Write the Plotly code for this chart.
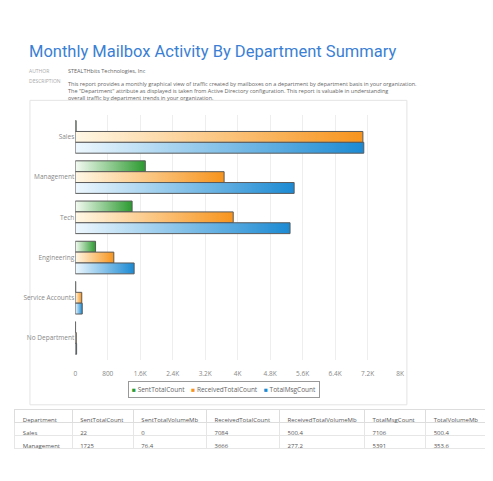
import plotly.graph_objects as go

# ---- data ----
departments = ["Sales", "Management", "Tech", "Engineering", "Service Accounts", "No Department"]
sent_total = [22, 1725, 1400, 500, 12, 8]
received_total = [7084, 3666, 3890, 950, 160, 25]
total_msg = [7106, 5391, 5290, 1450, 172, 33]

series_names = ["SentTotalCount", "ReceivedTotalCount", "TotalMsgCount"]
series_values = [sent_total, received_total, total_msg]
series_dark = ["#2b9a2f", "#f7941d", "#1b8ad3"]
series_light = ["#f4fbf2", "#fff8e6", "#eef8fe"]

x_tickvals = [0, 800, 1600, 2400, 3200, 4000, 4800, 5600, 6400, 7200, 8000]
x_ticktext = ["0", "800", "1.6K", "2.4K", "3.2K", "4K", "4.8K", "5.6K", "6.4K", "7.2K", "8K"]

table_header = ["Department", "SentTotalCount", "SentTotalVolumeMb", "ReceivedTotalCount",
                "ReceivedTotalVolumeMb", "TotalMsgCount", "TotalVolumeMb"]
table_department = ["Sales", "Management"]
table_sent_count = [22, 1725]
table_sent_vol = [0, 76.4]
table_recv_count = [7084, 3666]
table_recv_vol = [500.4, 277.2]
table_total_count = [7106, 5391]
table_total_vol = [500.4, 353.6]

title_text = "Monthly Mailbox Activity By Department Summary"
author_text = "STEALTHbits Technologies, Inc"
desc_lines = [
    "This report provides a monthly graphical view of traffic created by mailboxes on a department by department basis in your organization.",
    "The \"Department\" attribute as displayed is taken from Active Directory configuration. This report is valuable in understanding",
    "overall traffic by department trends in your organization.",
]

# ---- figure ----
fig = go.Figure()

bar_h = 0.27
offsets = [-bar_h, 0.0, bar_h]

for s_idx, (name, vals) in enumerate(zip(series_names, series_values)):
    for c_idx, v in enumerate(vals):
        yc = c_idx + offsets[s_idx]
        y0, y1 = yc - bar_h / 2, yc + bar_h / 2
        fig.add_trace(go.Scatter(
            x=[0, v, v, 0, 0], y=[y0, y0, y1, y1, y0],
            mode="lines", fill="toself", name=name,
            fillgradient=dict(type="horizontal",
                              colorscale=[[0, series_light[s_idx]], [1, series_dark[s_idx]]]),
            line=dict(color="#5a5a5a", width=1),
            showlegend=False, hoverinfo="skip",
        ))

legend_text = "&nbsp;&nbsp;&nbsp;&nbsp;".join(
    f"<span style='color:{c}'>■</span> {n}" for n, c in zip(series_names, series_dark)
)

fig.add_trace(go.Table(
    domain=dict(x=[0.01, 0.985], y=[0.03, 0.165]),
    columnwidth=[58, 62, 74, 74, 86, 62, 64],
    header=dict(values=table_header, align="left", height=13,
                fill_color="white", line_color="#dddddd",
                font=dict(family="Open Sans", size=6, color="#555555")),
    cells=dict(values=[table_department, table_sent_count, table_sent_vol, table_recv_count,
                       table_recv_vol, table_total_count, table_total_vol],
               align="left", height=13, fill_color="white", line_color="#e6e6e6",
               font=dict(family="Open Sans", size=6, color="#555555")),
))

fig.update_layout(
    width=493, height=481,
    margin=dict(l=0, r=0, t=0, b=0),
    paper_bgcolor="white", plot_bgcolor="white",
    font=dict(family="Open Sans", color="#777777"),
    showlegend=False,
    xaxis=dict(domain=[0.134, 0.801], range=[0, 8000], tickvals=x_tickvals, ticktext=x_ticktext,
               showgrid=True, gridcolor="#eeeeee", zeroline=False, showline=False,
               tickfont=dict(size=6.5, color="#888888"), ticks="", ticklabelstandoff=8),
    yaxis=dict(domain=[0.268, 0.778], range=[5.55, -0.55], tickvals=list(range(len(departments))),
               ticktext=departments, showgrid=False, zeroline=False, showline=False,
               tickfont=dict(size=6.5, color="#888888"), ticks=""),
    shapes=[
        dict(type="rect", xref="paper", yref="paper", x0=0.041, x1=0.815, y0=0.175, y1=0.808,
             line=dict(color="#e4e4e4", width=1), layer="below"),
        dict(type="line", xref="paper", yref="paper", x0=0.99, x1=0.99, y0=0.03, y1=0.92,
             line=dict(color="#bbbbbb", width=2)),
    ],
    annotations=[
        dict(text=legend_text, xref="paper", yref="paper", x=0.44, y=0.207, xanchor="center",
             yanchor="middle", showarrow=False, bgcolor="white", bordercolor="#999999",
             borderwidth=1, borderpad=3, font=dict(size=6.5, color="#666666")),
        dict(text=title_text, xref="paper", yref="paper", x=0.035, y=0.91, xanchor="left",
             yanchor="middle", showarrow=False,
             font=dict(family="Roboto", size=16.5, color="#3b7fd4")),
        dict(text="AUTHOR", xref="paper", yref="paper", x=0.035, y=0.868, xanchor="left",
             yanchor="middle", showarrow=False, font=dict(size=5, color="#aaaaaa")),
        dict(text=author_text, xref="paper", yref="paper", x=0.115, y=0.868, xanchor="left",
             yanchor="middle", showarrow=False, font=dict(size=5.5, color="#666666")),
        dict(text="DESCRIPTION", xref="paper", yref="paper", x=0.035, y=0.849, xanchor="left",
             yanchor="middle", showarrow=False, font=dict(size=5, color="#aaaaaa")),
        dict(text="<br>".join(desc_lines), xref="paper", yref="paper", x=0.115, y=0.855,
             xanchor="left", yanchor="top", align="left", showarrow=False,
             font=dict(size=5.5, color="#666666")),
    ],
)

fig.write_html("out.html")
